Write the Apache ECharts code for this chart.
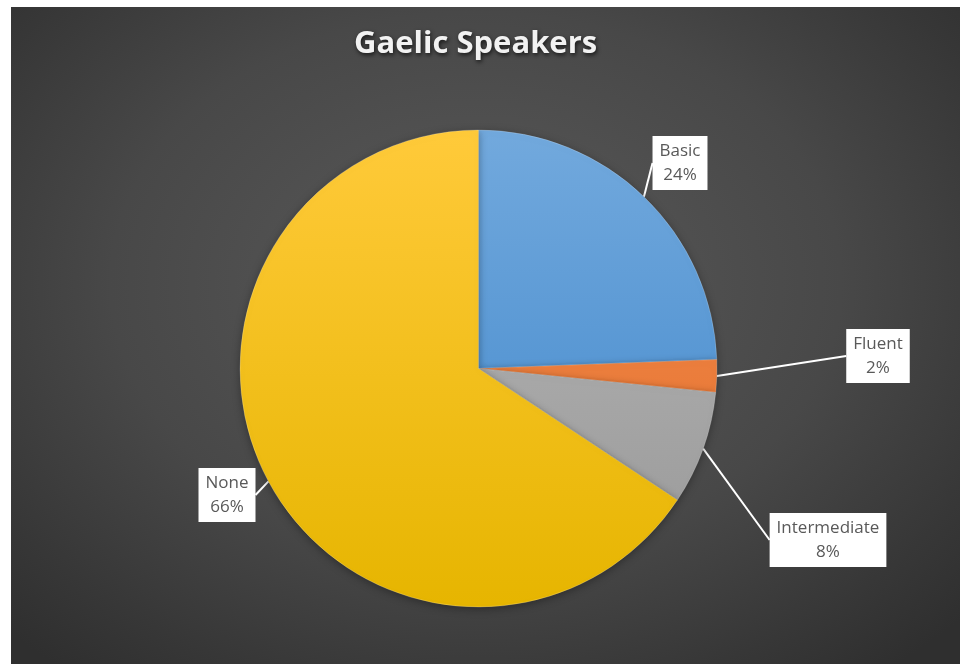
<!DOCTYPE html>
<html>
<head>
<meta charset="utf-8">
<script src="https://cdn.jsdelivr.net/npm/echarts@6/dist/echarts.min.js"></script>
<style>
  html, body { margin: 0; padding: 0; background: #ffffff; }
  #chart {
    position: absolute; left: 11px; top: 7px; width: 949px; height: 657px;
    background: radial-gradient(ellipse 70% 75% at 49% 42%, #5a5a5a 0%, #484848 55%, #373737 85%, #2f2f2f 100%);
  }
</style>
</head>
<body>
<div id="chart"></div>
<script>
const categories = ['Basic', 'Fluent', 'Intermediate', 'None'];
const values = [24.4, 2.2, 7.7, 65.7];
const chartTitle = 'Gaelic Speakers';

const sliceColors = [
  ['#72a9dd', '#3d85ca'],
  ['#f4925a', '#e2691f'],
  ['#b9b9b9', '#979797'],
  ['#ffca3a', '#e6b500']
];
const labelPos = [[669, 156], [867, 349], [817, 533], [216, 488]];

const chart = echarts.init(document.getElementById('chart'), null, { renderer: 'canvas' });

const data = categories.map((name, i) => ({
  name: name,
  value: values[i],
  itemStyle: {
    color: {
      type: 'linear', x: 0, y: 123, x2: 0, y2: 600, global: true,
      colorStops: [
        { offset: 0, color: sliceColors[i][0] },
        { offset: 1, color: sliceColors[i][1] }
      ]
    }
  }
}));

chart.setOption({
  backgroundColor: 'transparent',
  animation: false,
  title: {
    text: chartTitle,
    left: 338,
    top: 17,
    textStyle: {
      fontFamily: 'Open Sans',
      fontWeight: 'bold',
      fontSize: 31,
      color: '#f2f2f2',
      textShadowColor: 'rgba(0,0,0,0.7)',
      textShadowBlur: 4,
      textShadowOffsetY: 2,
      textShadowOffsetX: 1
    }
  },
  series: [{
    type: 'pie',
    center: [467.5, 361.5],
    radius: [0, 238.5],
    startAngle: 90,
    clockwise: true,
    data: data,
    itemStyle: {
      borderColor: 'rgba(255,255,255,0.2)',
      borderWidth: 1,
      shadowBlur: 8,
      shadowColor: 'rgba(0,0,0,0.35)',
      shadowOffsetY: 2
    },
    label: {
      show: true,
      position: 'outside',
      formatter: p => p.name + '\n' + Math.round(p.percent) + '%',
      fontFamily: 'Open Sans',
      fontSize: 17,
      lineHeight: 24,
      color: '#595959',
      backgroundColor: '#ffffff',
      padding: [3, 7],
      align: 'center'
    },
    labelLine: {
      show: true,
      length: 0,
      length2: 0,
      lineStyle: { color: '#ffffff', width: 2 }
    },
    labelLayout: function (params) {
      const pos = labelPos[params.dataIndex];
      return { x: pos[0], y: pos[1], align: 'center', verticalAlign: 'middle' };
    }
  }]
});
</script>
</body>
</html>
